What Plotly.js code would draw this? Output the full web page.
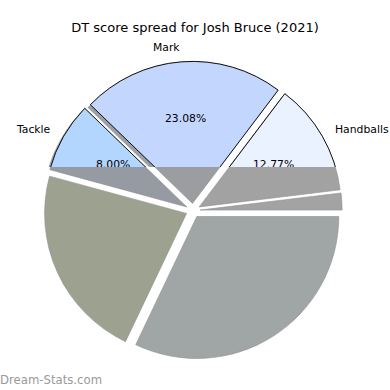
<!DOCTYPE html>
<html><head><meta charset="utf-8">
<script src="https://cdn.plot.ly/plotly-3.0.1.min.js"></script>
<style>html,body{margin:0;padding:0;background:#fff}#chart{width:390px;height:390px}</style>
</head><body><div id="chart"></div>
<script>
// Data: DT points by stat category (order as drawn, counter-clockwise from 3 o'clock)
const categories = ['Behind', 'Handballs', 'Mark', 'Tackle', 'Goal', 'Kick'];
const points = [25, 166, 300, 104, 288, 417];
const shownLabels = ['', 'Handballs', 'Mark', 'Tackle', '', ''];
const topColors = ['#e3eaf8', '#eaf1ff', '#c3d7fe', '#b3d6fe', '#d9e2c8', '#dde6f0'];
const lowColors = ['#a3a3a3', '#a2a2a2', '#9b9da1', '#959aa3', '#9da190', '#a0a6a6'];
const titleText = 'DT score spread for Josh Bruce (2021)';
const watermark = 'Dream-Stats.com';

const W = 390, H = 390;
const PULL = 0.05;
const dom = {x: [0.1126, 0.8772], y: [0.078, 0.8426]};
const splitY = 167; // upper part drawn in colour, lower part greyed

const pulls = points.map(() => PULL);
const total = points.reduce((a, b) => a + b, 0);
// Plotly places the first counter-clockwise slice clockwise of `rotation`;
// shift so that the first slice starts at 3 o'clock (matplotlib default).
const rot = 90 - 360 * points[0] / total;

function shadowColor(hex) {
  const n = parseInt(hex.slice(1), 16);
  const r = ((n >> 16) & 255) * 0.3, g = ((n >> 8) & 255) * 0.3, b = (n & 255) * 0.3;
  return `rgba(${r.toFixed(0)},${g.toFixed(0)},${b.toFixed(0)},0.5)`;
}

const base = {
  type: 'pie', labels: categories, values: points, sort: false,
  direction: 'counterclockwise', rotation: rot, pull: pulls,
  textinfo: 'none', hoverinfo: 'skip', showlegend: false
};
const off = 2.8;
const traceGrey = Object.assign({}, base, {
  domain: dom,
  marker: {colors: lowColors, line: {color: '#8e8e8e', width: 0.6}}
});
const traceShadow = Object.assign({}, base, {
  domain: {x: [dom.x[0] - off / W, dom.x[1] - off / W], y: [dom.y[0] - off / H, dom.y[1] - off / H]},
  marker: {colors: topColors.map(shadowColor), line: {width: 0}}
});
const traceTop = Object.assign({}, base, {
  domain: dom,
  marker: {colors: topColors, line: {color: '#000', width: 0.9}}
});

// pie geometry (same formula Plotly uses) for label placement
const wpx = (dom.x[1] - dom.x[0]) * W, hpx = (dom.y[1] - dom.y[0]) * H;
const R = Math.min(wpx, hpx) / (2 + 2 * PULL);
const cx = (dom.x[0] + dom.x[1]) / 2 * W;
const cy = (1 - (dom.y[0] + dom.y[1]) / 2) * H;

const annotations = [];
const pctIdx = [];
let cum = 0;
const txtFont = {family: 'DejaVu Sans', size: 10.8, color: '#000'};
points.forEach((v, i) => {
  const mid = (cum + v / 2) / total * 2 * Math.PI;
  cum += v;
  if (!shownLabels[i]) return;
  const c = Math.cos(mid), s = Math.sin(mid);
  const lx = cx + (1.1 + PULL) * R * c, ly = cy - (1.1 + PULL) * R * s;
  annotations.push({text: shownLabels[i], x: lx / W, y: 1 - ly / H, xref: 'paper', yref: 'paper',
    xanchor: c > 0 ? 'left' : 'right', yanchor: 'middle', showarrow: false,
    borderpad: 0, borderwidth: 0, font: txtFont});
  const px = cx + (0.6 + PULL) * R * c, py = cy - (0.6 + PULL) * R * s;
  pctIdx.push(annotations.length);
  annotations.push({text: (v / total * 100).toFixed(2) + '%', x: px / W, y: 1 - py / H, xref: 'paper', yref: 'paper',
    xanchor: 'center', yanchor: 'middle', showarrow: false,
    borderpad: 0, borderwidth: 0, font: txtFont});
});
annotations.push({text: watermark, x: 0, y: 1 - 380 / H, xref: 'paper', yref: 'paper',
  xanchor: 'left', yanchor: 'middle', showarrow: false, borderpad: 0, borderwidth: 0,
  font: {family: 'DejaVu Sans', size: 11.7, color: '#9a9a9a'}});

const layout = {
  width: W, height: H, margin: {l: 0, r: 0, t: 0, b: 0},
  paper_bgcolor: '#fff', plot_bgcolor: '#fff',
  title: {text: titleText, font: {family: 'DejaVu Sans', size: 13, color: '#000'},
    x: 0.5, xanchor: 'center', y: 1 - 27 / H, yanchor: 'middle', yref: 'container'},
  annotations: annotations
};

const gd = document.getElementById('chart');
Plotly.newPlot(gd, [traceGrey, traceShadow, traceTop], layout, {staticPlot: true}).then(() => {
  const ns = 'http://www.w3.org/2000/svg';
  document.querySelectorAll('#chart svg.main-svg').forEach((svg, k) => {
    let defs = svg.querySelector('defs');
    if (!defs) { defs = document.createElementNS(ns, 'defs'); svg.insertBefore(defs, svg.firstChild); }
    const cp = document.createElementNS(ns, 'clipPath');
    cp.setAttribute('id', 'topclip' + k);
    const rect = document.createElementNS(ns, 'rect');
    rect.setAttribute('x', -20); rect.setAttribute('y', -20);
    rect.setAttribute('width', W + 40); rect.setAttribute('height', splitY + 20);
    cp.appendChild(rect); defs.appendChild(cp);
    const tr = svg.querySelectorAll('.pielayer .trace');
    if (tr.length >= 3) { tr[1].setAttribute('clip-path', 'url(#topclip' + k + ')'); tr[2].setAttribute('clip-path', 'url(#topclip' + k + ')'); }
    svg.querySelectorAll('.annotation').forEach(a => {
      const idx = +a.getAttribute('data-index');
      if (pctIdx.includes(idx)) a.setAttribute('clip-path', 'url(#topclip' + k + ')');
    });
  });
});
</script></body></html>
